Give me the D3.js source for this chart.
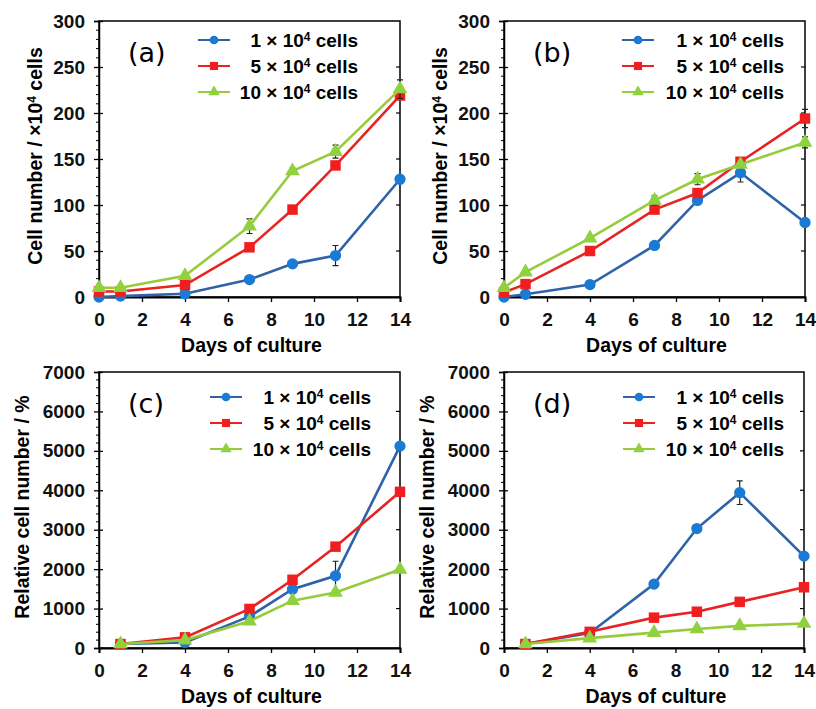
<!DOCTYPE html>
<html>
<head>
<meta charset="utf-8">
<script src="https://cdn.jsdelivr.net/npm/d3@7"></script>
<style>
  body { margin: 0; background: #fff; }
  svg { display: block; font-family: "Liberation Sans", Arial, sans-serif; }
</style>
</head>
<body>
<div id="chart"></div>
<script>
// Days of culture
const daysAB = [0, 1, 4, 7, 9, 11, 14];
const daysCD = [1, 4, 7, 9, 11, 14];
const xTicks = [0, 2, 4, 6, 8, 10, 12, 14];

// legend labels (cells seeded, x10^4)
const seedLabels = ["1", "5", "10"];

// (a) cell number / x10^4 cells
const a1 = [0, 1, 3.5, 19, 36, 45, 128];
const a5 = [6, 6, 13, 54, 95, 143, 219];
const a10 = [10, 10, 23, 77, 137, 158, 226];
const a1Err = [0, 0, 1, 2, 2, 11, 3];
const a5Err = [0, 0, 1, 2, 3, 3, 4];
const a10Err = [0, 0, 1, 8, 3, 7, 10];

// (b) cell number / x10^4 cells
const b1 = [0, 3, 13.5, 56, 105, 135, 81];
const b5 = [5, 14, 50, 95, 113, 147, 194];
const b10 = [10, 27, 64, 105, 128, 144, 168];
const b1Err = [0, 0, 1, 2, 3, 10, 2];
const b5Err = [0, 1, 2, 2, 3, 3, 10];
const b10Err = [0, 1, 2, 5, 6, 3, 6];

// (c) relative cell number / %
const c1 = [100, 140, 800, 1490, 1830, 5120];
const c5 = [100, 270, 990, 1730, 2570, 3960];
const c10 = [100, 200, 680, 1200, 1410, 1990];
const c1Err = [0, 20, 40, 60, 370, 60];
const c5Err = [0, 20, 40, 60, 60, 60];
const c10Err = [0, 20, 30, 40, 40, 50];

// (d) relative cell number / %
const d1 = [100, 380, 1620, 3030, 3940, 2330];
const d5 = [100, 410, 770, 920, 1170, 1540];
const d10 = [100, 250, 390, 480, 560, 620];
const d1Err = [0, 20, 50, 60, 300, 60];
const d5Err = [0, 20, 30, 40, 40, 50];
const d10Err = [0, 10, 20, 20, 20, 30];

const lineColors = ["#2f63a8", "#e82323", "#97cb3c"];
const markColors = ["#1a7ad4", "#f01e1e", "#8fd13f"];
const markShapes = [d3.symbolCircle, d3.symbolSquare, d3.symbolTriangle];
const markSizes = [100, 110, 95];

const width = 816, height = 709;
const svg = d3.select("#chart").append("svg")
  .attr("width", width).attr("height", height);

const panels = [
  { tag: "(a)", days: daysAB, series: [a1, a5, a10], errs: [a1Err, a5Err, a10Err],
    yMax: 300, yStep: 50, yMinor: 10, yTitle: "cells",
    left: 99, right: 400, top: 21, bottom: 297, titleOff: 64, legX: 198, legEnd: 358 },
  { tag: "(b)", days: daysAB, series: [b1, b5, b10], errs: [b1Err, b5Err, b10Err],
    yMax: 300, yStep: 50, yMinor: 10, yTitle: "cells",
    left: 504, right: 805, top: 21, bottom: 297, titleOff: 64, legX: 622, legEnd: 784 },
  { tag: "(c)", days: daysCD, series: [c1, c5, c10], errs: [c1Err, c5Err, c10Err],
    yMax: 7000, yStep: 1000, yMinor: 200, yTitle: "rel",
    left: 99, right: 400, top: 372, bottom: 648, titleOff: 77, legX: 210, legEnd: 371 },
  { tag: "(d)", days: daysCD, series: [d1, d5, d10], errs: [d1Err, d5Err, d10Err],
    yMax: 7000, yStep: 1000, yMinor: 200, yTitle: "rel",
    left: 504, right: 804, top: 372, bottom: 648, titleOff: 77, legX: 623, legEnd: 784 }
];

panels.forEach(drawPanel);

// text like "... ×10⁴ ..." with a raised 4
function addPow(t, before, after) {
  t.append("tspan").text(before);
  t.append("tspan").attr("dy", -6).style("font-size", "12px").text("4");
  t.append("tspan").attr("dy", 6).text(after);
}

function drawPanel(p) {
  const x = d3.scaleLinear().domain([0, 14]).range([p.left, p.right]);
  const y = d3.scaleLinear().domain([0, p.yMax]).range([p.bottom, p.top]);
  const g = svg.append("g");

  // frame
  g.append("rect")
    .attr("x", p.left).attr("y", p.top)
    .attr("width", p.right - p.left).attr("height", p.bottom - p.top)
    .attr("fill", "none").attr("stroke", "#000").attr("stroke-width", 1.5);

  const majors = d3.range(0, p.yMax + 1, p.yStep);
  const minors = d3.range(0, p.yMax + 1, p.yMinor).filter((v) => v % p.yStep !== 0);

  // left axis
  const yAxis = g.append("g")
    .attr("transform", `translate(${p.left},0)`)
    .call(d3.axisLeft(y).tickValues(majors).tickSize(5).tickPadding(9).tickFormat(d3.format("d")));
  yAxis.select(".domain").attr("stroke-width", 1.5);
  yAxis.selectAll(".tick line").attr("x2", -5).attr("x1", 4).attr("stroke-width", 1.3);
  yAxis.selectAll("text")
    .style("font-size", "19px").style("font-weight", "bold").attr("fill", "#111");
  g.append("g").selectAll("line")
    .data(minors).join("line")
    .attr("x1", p.left - 3).attr("x2", p.left)
    .attr("y1", (d) => y(d)).attr("y2", (d) => y(d))
    .attr("stroke", "#000").attr("stroke-width", 1);

  // right mirror ticks
  g.append("g").selectAll("line")
    .data(majors.slice(1, -1)).join("line")
    .attr("x1", p.right - 4).attr("x2", p.right)
    .attr("y1", (d) => y(d)).attr("y2", (d) => y(d))
    .attr("stroke", "#000").attr("stroke-width", 1.2);

  // bottom axis
  const xAxis = g.append("g")
    .attr("transform", `translate(0,${p.bottom})`)
    .call(d3.axisBottom(x).tickValues(xTicks).tickSize(5).tickPadding(11));
  xAxis.select(".domain").attr("stroke-width", 2);
  xAxis.selectAll(".tick line").attr("stroke-width", 1.3);
  xAxis.selectAll("text")
    .style("font-size", "19px").style("font-weight", "bold").attr("fill", "#111");

  // axis titles
  g.append("text")
    .attr("x", (p.left + p.right) / 2 + 2).attr("y", p.bottom + 55)
    .attr("text-anchor", "middle")
    .style("font-size", "19.5px").style("font-weight", "bold")
    .text("Days of culture");

  const yt = g.append("text")
    .attr("transform", `translate(${p.left - p.titleOff},${(p.top + p.bottom) / 2 - 3}) rotate(-90)`)
    .attr("text-anchor", "middle").attr("dy", "0.35em")
    .style("font-size", "19.5px").style("font-weight", "bold");
  if (p.yTitle === "cells") {
    addPow(yt, "Cell number / ×10", " cells");
  } else {
    yt.text("Relative cell number / %");
  }

  // panel tag
  g.append("text")
    .attr("x", p.left + 29).attr("y", p.top + 41)
    .style("font-size", "27px").style("font-family", "'DejaVu Sans', sans-serif")
    .text(p.tag);

  // series
  const line = d3.line().x((d) => x(d[0])).y((d) => y(d[1]));
  p.series.forEach((vals, i) => {
    const pts = p.days.map((d, j) => [d, vals[j], p.errs[i][j]]);
    const s = g.append("g");

    s.selectAll("path.err")
      .data(pts.filter((d) => d[2] > 0)).join("path")
      .attr("class", "err")
      .attr("d", (d) => {
        const cx = x(d[0]), y0 = y(d[1] - d[2]), y1 = y(d[1] + d[2]);
        return `M${cx},${y0}V${y1}M${cx - 3},${y0}H${cx + 3}M${cx - 3},${y1}H${cx + 3}`;
      })
      .attr("stroke", "#222").attr("stroke-width", 1.2).attr("fill", "none");

    s.append("path")
      .attr("d", line(pts))
      .attr("fill", "none").attr("stroke", lineColors[i]).attr("stroke-width", 2.6);

    s.selectAll("path.mk")
      .data(pts).join("path")
      .attr("class", "mk")
      .attr("transform", (d) => `translate(${x(d[0])},${y(d[1])})`)
      .attr("d", d3.symbol().type(markShapes[i]).size(markSizes[i]))
      .attr("fill", markColors[i]);
  });

  // legend
  const lg = g.append("g");
  const row0 = p.top + (p.top < 100 ? 19 : 25);
  seedLabels.forEach((lab, i) => {
    const ly = row0 + i * 26;
    lg.append("line")
      .attr("x1", p.legX).attr("x2", p.legX + 32).attr("y1", ly).attr("y2", ly)
      .attr("stroke", lineColors[i]).attr("stroke-width", 2);
    lg.append("path")
      .attr("transform", `translate(${p.legX + 16},${ly})`)
      .attr("d", d3.symbol().type(markShapes[i]).size(markSizes[i] * 0.6))
      .attr("fill", markColors[i]);
    const t = lg.append("text")
      .attr("x", p.legEnd).attr("y", ly).attr("dy", "0.36em")
      .attr("text-anchor", "end")
      .style("font-size", "19px").style("font-weight", "bold");
    addPow(t, `${lab} × 10`, " cells");
  });
}
</script>
</body>
</html>
